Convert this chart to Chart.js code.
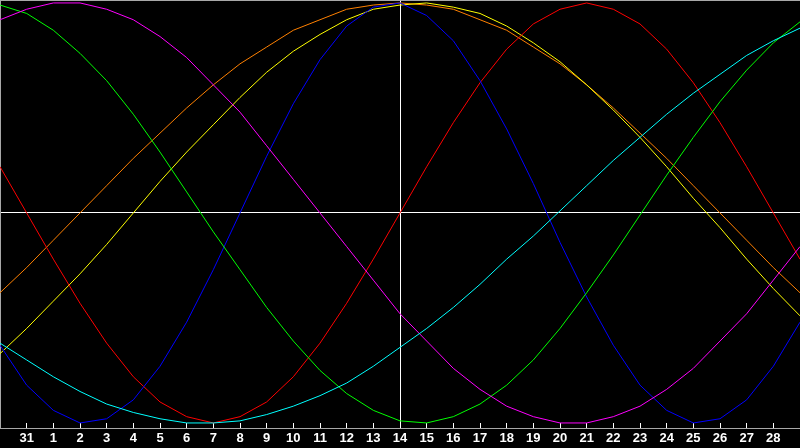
<!DOCTYPE html>
<html>
<head>
<meta charset="utf-8">
<script src="https://cdn.jsdelivr.net/npm/chart.js@4.4.0/dist/chart.umd.min.js"></script>
<style>
  html, body { margin: 0; padding: 0; background: #000; }
  canvas { display: block; }
</style>
</head>
<body>
<canvas id="ritmos" width="800" height="448"></canvas>
<script>
// dias del eje (el primero y el ultimo no llevan etiqueta)
const dias = ['30', '31', '1', '2', '3', '4', '5', '6', '7', '8', '9', '10', '11', '12', '13', '14',
  '15', '16', '17', '18', '19', '20', '21', '22', '23', '24', '25', '26', '27', '28', '29'];
const hoy = 15; // posicion de la linea vertical (dia 14)

// valores, -1 .. 1
const fisico = [-0.63, -0.82, -0.94, -1.00, -0.98, -0.89, -0.73, -0.52, -0.27, 0, 0.27, 0.52, 0.73, 0.89, 0.98, 1.00,
  0.94, 0.82, 0.63, 0.40, 0.14, -0.14, -0.40, -0.63, -0.82, -0.94, -1.00, -0.98, -0.89, -0.73, -0.52];
const emocional = [0.22, 0, -0.22, -0.43, -0.62, -0.78, -0.90, -0.97, -1.00, -0.97, -0.90, -0.78, -0.62, -0.43, -0.22, 0,
  0.22, 0.43, 0.62, 0.78, 0.90, 0.97, 1.00, 0.97, 0.90, 0.78, 0.62, 0.43, 0.22, 0, -0.22];
const intelectual = [0.99, 0.95, 0.87, 0.76, 0.63, 0.47, 0.29, 0.10, -0.09, -0.27, -0.45, -0.61, -0.75, -0.86, -0.94, -0.99,
  -1.00, -0.97, -0.91, -0.82, -0.70, -0.55, -0.38, -0.20, -0.01, 0.18, 0.36, 0.53, 0.68, 0.81, 0.91];
const intuitivo = [0.92, 0.97, 1.00, 1.00, 0.97, 0.92, 0.84, 0.74, 0.61, 0.48, 0.32, 0.16, 0, -0.16, -0.32, -0.48,
  -0.61, -0.74, -0.84, -0.92, -0.97, -1.00, -1.00, -0.97, -0.92, -0.84, -0.74, -0.61, -0.48, -0.32, -0.16];
const estetico = [-0.67, -0.55, -0.42, -0.29, -0.15, 0, 0.15, 0.29, 0.42, 0.55, 0.67, 0.77, 0.85, 0.92, 0.97, 0.99,
  1.00, 0.98, 0.95, 0.89, 0.81, 0.72, 0.61, 0.49, 0.36, 0.22, 0.07, -0.07, -0.22, -0.36, -0.49];
const conciencia = [-0.38, -0.26, -0.13, 0, 0.13, 0.26, 0.38, 0.50, 0.61, 0.71, 0.79, 0.87, 0.92, 0.97, 0.99, 1.00,
  0.99, 0.97, 0.92, 0.87, 0.79, 0.71, 0.61, 0.50, 0.38, 0.26, 0.13, 0, -0.13, -0.26, -0.38];
const espiritual = [-0.62, -0.70, -0.78, -0.85, -0.91, -0.95, -0.98, -1.00, -1.00, -0.99, -0.96, -0.92, -0.87, -0.81, -0.73, -0.64,
  -0.55, -0.45, -0.34, -0.22, -0.11, 0.01, 0.13, 0.25, 0.36, 0.47, 0.57, 0.66, 0.75, 0.82, 0.88];

const gris = '#a8a8a8';

function serie(nombre, datos, color) {
  return {
    label: nombre,
    data: datos,
    borderColor: color,
    borderWidth: 1,
    pointRadius: 0,
    pointHoverRadius: 0,
    tension: 0,
    fill: false
  };
}

new Chart(document.getElementById('ritmos'), {
  type: 'line',
  data: {
    labels: dias,
    datasets: [
      serie('Espiritual', espiritual, '#00ffff'),
      serie('Intuitivo', intuitivo, '#ff00ff'),
      serie('Intelectual', intelectual, '#00ff00'),
      serie('Fisico', fisico, '#0000ff'),
      serie('Emocional', emocional, '#ff0000'),
      serie('Estetico', estetico, '#ffff00'),
      serie('Conciencia', conciencia, '#ff8000')
    ]
  },
  options: {
    responsive: false,
    animation: false,
    devicePixelRatio: 1,
    // el eje de abajo es mas alto que el hueco, por eso el -6
    layout: { autoPadding: false, padding: { top: 0, left: 0, right: 0, bottom: -6 } },
    plugins: {
      legend: { display: false },
      tooltip: { enabled: false }
    },
    scales: {
      x: {
        position: 'bottom',
        z: 1,
        border: { display: true, color: gris, width: 1 },
        grid: {
          display: true,
          drawOnChartArea: true,
          drawTicks: true,
          tickLength: -5,
          lineWidth: 1,
          color: c => c.index === hoy ? '#ffffff' : 'transparent',
          tickColor: c => (c.index === 0 || c.index === dias.length - 1) ? 'transparent' : '#ffffff'
        },
        ticks: {
          autoSkip: false,
          maxRotation: 0,
          padding: 0,
          color: '#ffffff',
          font: { family: '"Liberation Sans", Arial, sans-serif', size: 13, weight: 'bold', lineHeight: '31px' },
          callback: function (value, index) {
            if (index === 0 || index === dias.length - 1) return '';
            return this.getLabelForValue(value);
          }
        }
      },
      arriba: {
        type: 'category',
        position: 'top',
        labels: dias,
        border: { display: true, color: gris, width: 1 },
        grid: { display: false, drawTicks: false },
        ticks: { display: false }
      },
      y: {
        min: -1.024,
        max: 1.014,
        z: 1,
        border: { display: true, color: gris, width: 1 },
        grid: {
          drawTicks: false,
          lineWidth: 1,
          color: c => (c.tick && Math.abs(c.tick.value) < 1e-6) ? '#ffffff' : 'transparent'
        },
        ticks: { display: false, stepSize: 0.5 }
      }
    }
  }
});
</script>
</body>
</html>
